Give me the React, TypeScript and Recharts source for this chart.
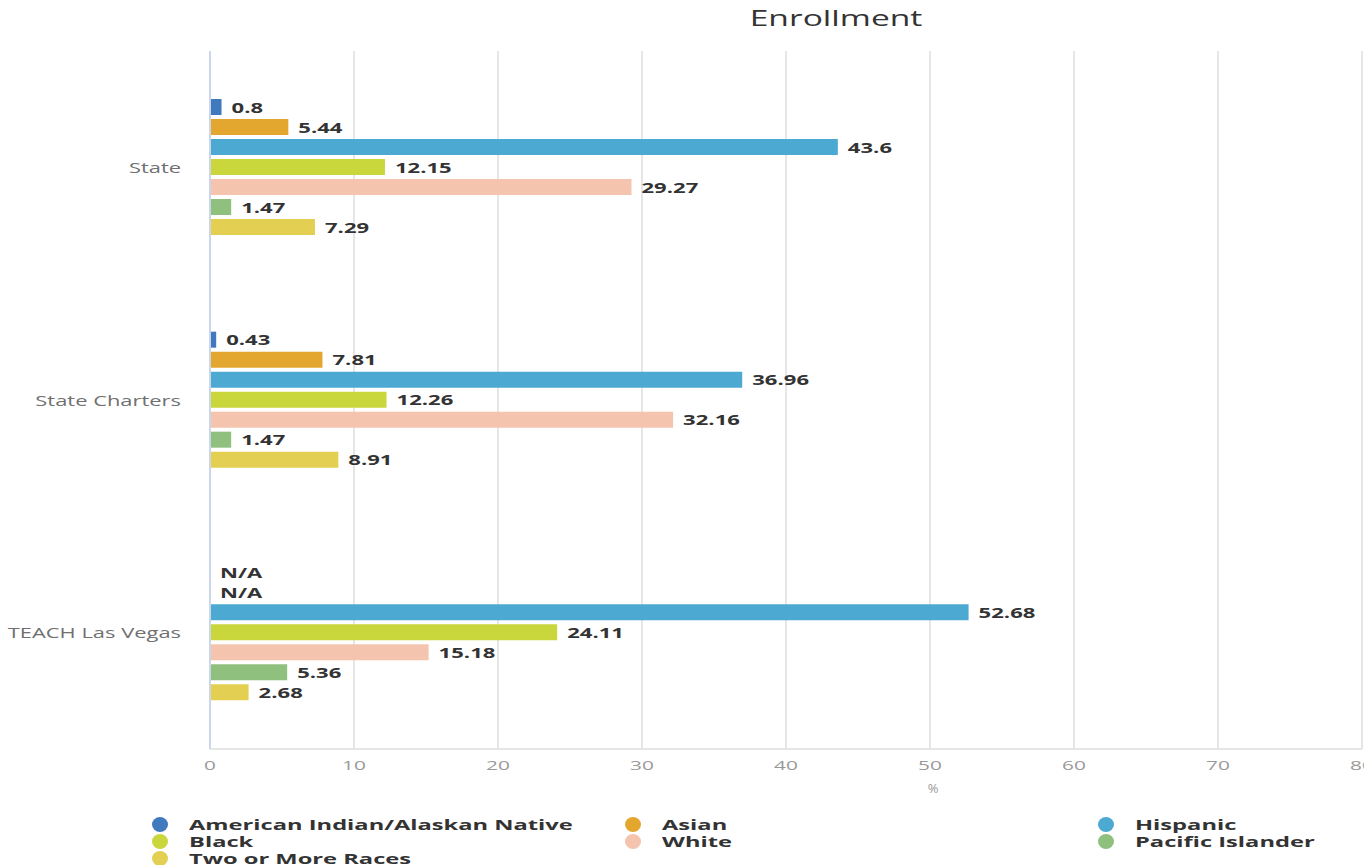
import React from "react";
import {
  BarChart,
  Bar,
  XAxis,
  YAxis,
  CartesianGrid,
  LabelList,
  Label,
} from "recharts";

const categories = ["State", "State Charters", "TEACH Las Vegas"];

const americanIndian = [0.8, 0.43, null];
const asian = [5.44, 7.81, null];
const hispanic = [43.6, 36.96, 52.68];
const black = [12.15, 12.26, 24.11];
const white = [29.27, 32.16, 15.18];
const pacificIslander = [1.47, 1.47, 5.36];
const twoOrMore = [7.29, 8.91, 2.68];

const xTicks = [0, 10, 20, 30, 40, 50, 60, 70, 80];

const series = [
  { key: "americanIndian", name: "American Indian/Alaskan Native", values: americanIndian, color: "#4079bd" },
  { key: "asian", name: "Asian", values: asian, color: "#e3a72f" },
  { key: "hispanic", name: "Hispanic", values: hispanic, color: "#4caad2" },
  { key: "black", name: "Black", values: black, color: "#c9d73c" },
  { key: "white", name: "White", values: white, color: "#f4c4ae" },
  { key: "pacificIslander", name: "Pacific Islander", values: pacificIslander, color: "#8fc07e" },
  { key: "twoOrMore", name: "Two or More Races", values: twoOrMore, color: "#e3cf52" },
];

// legend is laid out in rows of three, like the original
const legendRows = [
  ["americanIndian", "asian", "hispanic"],
  ["black", "white", "pacificIslander"],
  ["twoOrMore"],
];

const SX = 1.6; // the reference text is stretched sideways
const FONT = "'Open Sans', sans-serif";

const chartData = categories.map((name, i) => {
  const row: Record<string, any> = { name };
  series.forEach((s) => {
    const v = s.values[i];
    row[s.key] = v == null ? 0 : v;
    row[s.key + "Label"] = v == null ? "N/A" : String(v);
  });
  return row;
});

const YTick = ({ x, y, payload }: any) => (
  <g transform={`translate(${x},${y})`}>
    <text
      transform={`scale(${SX},1)`}
      textAnchor="end"
      dominantBaseline="central"
      fontSize={13.7}
      fontFamily={FONT}
      fill="#707070"
    >
      {payload.value}
    </text>
  </g>
);

const XTick = ({ x, y, payload }: any) => (
  <g transform={`translate(${x},${y})`}>
    <text
      transform={`scale(${SX},1)`}
      textAnchor="middle"
      dy="0.71em"
      fontSize={13}
      fontFamily={FONT}
      fill="#999999"
    >
      {payload.value}
    </text>
  </g>
);

const BarValue = ({ x, y, width, height, value }: any) => (
  <g transform={`translate(${x + width + 10},${y + height / 2})`}>
    <text
      transform={`scale(${SX},1)`}
      dominantBaseline="central"
      fontSize={13.8}
      fontWeight={700}
      fontFamily={FONT}
      fill="#333333"
    >
      {value}
    </text>
  </g>
);

export default function App() {
  const byKey = Object.fromEntries(series.map((s) => [s.key, s]));
  return (
    <div style={{ position: "absolute", left: 0, top: 0, width: 1364, height: 865, background: "#fff", overflow: "hidden" }}>
      <svg width={1364} height={50} style={{ position: "absolute", left: 0, top: 0 }}>
        <text
          transform={`translate(836,18) scale(${SX},1)`}
          textAnchor="middle"
          dominantBaseline="central"
          fontSize={21}
          fontFamily={FONT}
          fill="#333333"
        >
          Enrollment
        </text>
      </svg>
      <div style={{ position: "absolute", left: 0, top: 0 }}>
        <BarChart
          width={1364}
          height={865}
          data={chartData}
          layout="vertical"
          margin={{ top: 51, right: 2, left: 0, bottom: 70 }}
          barSize={16}
          barGap={4}
        >
          <CartesianGrid vertical horizontal={false} stroke="#e6e6e6" strokeWidth={2} />
          <XAxis
            type="number"
            domain={[0, 80]}
            ticks={xTicks}
            interval={0}
            height={46}
            tick={<XTick />}
            tickLine={false}
            tickMargin={6}
            axisLine={{ stroke: "#e6e6e6", strokeWidth: 2 }}
          >
            <Label
              value="%"
              position="insideBottom"
              offset={2}
              dx={147}
              style={{ fontSize: 13, fontFamily: FONT, fill: "#999999" }}
            />
          </XAxis>
          <YAxis
            type="category"
            dataKey="name"
            width={210}
            tick={<YTick />}
            tickLine={false}
            tickMargin={23}
            axisLine={{ stroke: "#ccd6eb", strokeWidth: 2 }}
          />
          {series.map((s) => (
            <Bar
              key={s.key}
              dataKey={s.key}
              name={s.name}
              fill={s.color}
              minPointSize={0.01}
              isAnimationActive={false}
            >
              <LabelList dataKey={s.key + "Label"} content={<BarValue />} />
            </Bar>
          ))}
        </BarChart>
      </div>
      {legendRows.map((row, r) =>
        row.map((key, c) => {
          const s = byKey[key];
          return (
            <div
              key={key}
              style={{
                position: "absolute",
                left: 152 + c * 473,
                top: 816 + r * 17,
                height: 16,
                display: "flex",
                alignItems: "center",
                whiteSpace: "nowrap",
              }}
            >
              <span
                style={{
                  display: "inline-block",
                  width: 16,
                  height: 15,
                  borderRadius: "50%",
                  background: s.color,
                }}
              />
              <span
                style={{
                  display: "inline-block",
                  marginLeft: 21,
                  fontFamily: FONT,
                  fontWeight: 700,
                  fontSize: 14.8,
                  lineHeight: "15px",
                  color: "#333333",
                  transform: `scaleX(${SX})`,
                  transformOrigin: "left center",
                }}
              >
                {s.name}
              </span>
            </div>
          );
        })
      )}
    </div>
  );
}
